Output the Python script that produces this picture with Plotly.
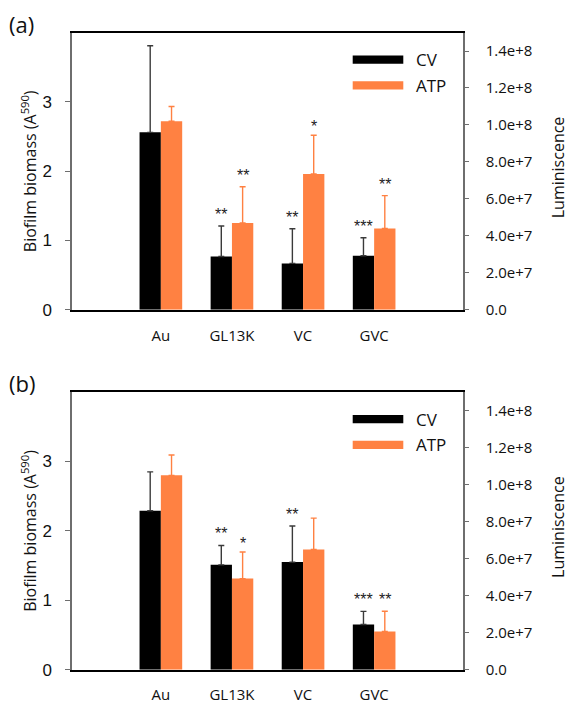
import plotly.graph_objects as go

# ---- data -------------------------------------------------------------
categories = ["Au", "GL13K", "VC", "GVC"]

# panel (a)
cv_a = [2.56, 0.77, 0.67, 0.78]
cv_a_err = [1.25, 0.44, 0.50, 0.26]
atp_a = [1.02e8, 4.70e7, 7.35e7, 4.40e7]
atp_a_err = [0.80e7, 1.96e7, 2.09e7, 1.78e7]
cv_a_sig = ["", "**", "**", "***"]
atp_a_sig = ["", "**", "*", "**"]

# panel (b)
cv_b = [2.29, 1.51, 1.55, 0.65]
cv_b_err = [0.56, 0.28, 0.52, 0.19]
atp_b = [1.05e8, 4.92e7, 6.49e7, 2.06e7]
atp_b_err = [1.10e7, 1.44e7, 1.70e7, 1.10e7]
cv_b_sig = ["", "**", "**", "***"]
atp_b_sig = ["", "*", "", "**"]

left_ticks = [0, 1, 2, 3]
right_tickvals = [0, 2e7, 4e7, 6e7, 8e7, 1.0e8, 1.2e8, 1.4e8]
right_ticktext = ["0.0", "2.0e+7", "4.0e+7", "6.0e+7", "8.0e+7",
                  "1.0e+8", "1.2e+8", "1.4e+8"]

# ---- styling ----------------------------------------------------------
W, H = 568, 705
BLACK = "#000000"
ORANGE = "#FF8142"
TXT = "#111111"
AXIS_GRAY = "#6e6e6e"
SANS = "Open Sans"
ARIAL = "Liberation Sans"

BAR_W = 0.3
positions = [1, 2, 3, 4]


def xp(px):
    return px / W


def yp(py):
    return 1 - py / H


# plot-area pixel bounds of each panel: (top, bottom)
panels = [(33.0, 314.3), (397.7, 679.3)]
X0, X1 = 72.0, 463.0

fig = go.Figure()

panel_data = [
    (cv_a, cv_a_err, atp_a, atp_a_err, cv_a_sig, atp_a_sig, "(a)"),
    (cv_b, cv_b_err, atp_b, atp_b_err, cv_b_sig, atp_b_sig, "(b)"),
]

annotations = []
shapes = []

for i, (cv, cve, atp, atpe, cvs, atps, tag) in enumerate(panel_data):
    xa = "x" if i == 0 else "x2"
    yl = "y" if i == 0 else "y3"
    yr = "y2" if i == 0 else "y4"

    fig.add_trace(go.Bar(
        x=positions, y=cv, width=BAR_W, offset=-BAR_W,
        marker=dict(color=BLACK, line=dict(width=0)),
        error_y=dict(type="data", symmetric=False, array=cve,
                     arrayminus=[0] * len(cve), color="#3a3a3a",
                     thickness=1.4, width=3),
        xaxis=xa, yaxis=yl, showlegend=False, name="CV",
    ))
    fig.add_trace(go.Bar(
        x=positions, y=atp, width=BAR_W, offset=0,
        marker=dict(color=ORANGE, line=dict(width=0)),
        error_y=dict(type="data", symmetric=False, array=atpe,
                     arrayminus=[0] * len(atpe), color=ORANGE,
                     thickness=1.4, width=3),
        xaxis=xa, yaxis=yr, showlegend=False, name="ATP",
    ))

    # significance marks above the error bars
    sig_font = dict(family=ARIAL, size=16, color="#222222")
    for p, m, e, s in zip(positions, cv, cve, cvs):
        if s:
            annotations.append(dict(
                x=p - BAR_W / 2, y=m + e, xref=xa, yref=yl, text=s,
                showarrow=False, yanchor="bottom",
                yshift=-2 if s == "*" else 1, font=sig_font))
    for p, m, e, s in zip(positions, atp, atpe, atps):
        if s:
            annotations.append(dict(
                x=p + BAR_W / 2, y=m + e, xref=xa, yref=yr, text=s,
                showarrow=False, yanchor="bottom",
                yshift=-2 if s == "*" else 1, font=sig_font))

    top, bot = panels[i]

    # legend swatches and labels
    for k, (col, lab) in enumerate([(BLACK, "CV"), (ORANGE, "ATP")]):
        cy = top + 27.5 + k * 26.0
        shapes.append(dict(type="rect", xref="paper", yref="paper",
                           x0=xp(352.7), x1=xp(403.3),
                           y0=yp(cy + 4.2), y1=yp(cy - 4.2),
                           fillcolor=col, line=dict(width=0)))
        annotations.append(dict(x=xp(414), y=yp(cy), xref="paper",
                                yref="paper", text=lab, showarrow=False,
                                xanchor="left", yanchor="middle",
                                font=dict(family=SANS, size=17, color=TXT)))

    # panel tag
    annotations.append(dict(x=xp(7), y=yp(top - 9), xref="paper",
                            yref="paper", text=tag, showarrow=False,
                            xanchor="left", yanchor="middle",
                            font=dict(family=SANS, size=22, color=TXT)))
    # axis titles
    mid = (top + bot) / 2
    annotations.append(dict(x=xp(29), y=yp(mid), xref="paper", yref="paper",
                            text="Biofilm biomass (A<sup>590</sup>)",
                            showarrow=False, textangle=-90,
                            xanchor="center", yanchor="middle",
                            font=dict(family=SANS, size=16, color=TXT)))
    annotations.append(dict(x=xp(558), y=yp(mid - 4), xref="paper",
                            yref="paper", text="Luminiscence",
                            showarrow=False, textangle=-90,
                            xanchor="center", yanchor="middle",
                            font=dict(family=SANS, size=16, color=TXT)))

xdom = [xp(X0), xp(X1)]
ydom_a = [yp(panels[0][1]), yp(panels[0][0])]
ydom_b = [yp(panels[1][1]), yp(panels[1][0])]

xaxis_common = dict(
    range=[-0.25, 5.25], tickvals=positions, ticktext=categories,
    ticks="", showline=True, linecolor=BLACK, linewidth=1.5, mirror=True,
    showgrid=False, zeroline=False, fixedrange=True,
    tickfont=dict(family=SANS, size=15, color=TXT), ticklabelstandoff=11,
)
yleft_common = dict(
    range=[0, 4], tickvals=left_ticks, ticks="outside", ticklen=5,
    tickcolor=AXIS_GRAY, showline=True, linecolor=AXIS_GRAY, linewidth=1.5,
    showgrid=False, zeroline=False, ticklabelstandoff=10,
    tickfont=dict(family=ARIAL, size=17, color=TXT),
)
yright_common = dict(
    range=[0, 1.5e8], tickvals=right_tickvals, ticktext=right_ticktext,
    ticks="outside", ticklen=4, tickcolor=AXIS_GRAY, side="right",
    showline=True, linecolor=AXIS_GRAY, linewidth=1.5, showgrid=False,
    zeroline=False, ticklabelstandoff=14,
    tickfont=dict(family=SANS, size=15, color=TXT),
)

fig.update_layout(
    width=W, height=H, margin=dict(l=0, r=0, t=0, b=0),
    paper_bgcolor="white", plot_bgcolor="white",
    barmode="overlay", showlegend=False,
    xaxis=dict(domain=xdom, anchor="y", **xaxis_common),
    yaxis=dict(domain=ydom_a, anchor="x", **yleft_common),
    yaxis2=dict(overlaying="y", anchor="x", **yright_common),
    xaxis2=dict(domain=xdom, anchor="y3", **xaxis_common),
    yaxis3=dict(domain=ydom_b, anchor="x2", **yleft_common),
    yaxis4=dict(overlaying="y3", anchor="x2", **yright_common),
    annotations=annotations, shapes=shapes,
)

fig.write_html("out.html")
